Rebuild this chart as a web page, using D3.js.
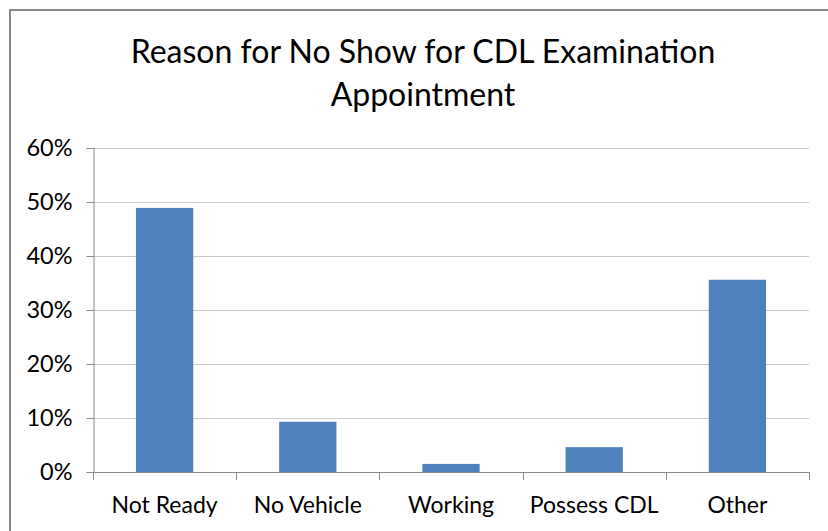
<!DOCTYPE html>
<html><head><meta charset="utf-8">
<script src="https://cdn.jsdelivr.net/npm/d3@7"></script>
<style>body{margin:0;background:#fff}svg{display:block}</style>
</head><body>
<svg id="c" width="828" height="531"></svg>
<script>
const categories = ["Not Ready", "No Vehicle", "Working", "Possess CDL", "Other"];
const values = [0.489, 0.093, 0.015, 0.046, 0.356];
const yTicks = [0, 0.1, 0.2, 0.3, 0.4, 0.5, 0.6];
const titleLines = ["Reason for No Show for CDL Examination", "Appointment"];

const svg = d3.select("#c");
const font = "Lato, 'Open Sans', sans-serif";
const m = {left: 93, right: 809, top: 148, bottom: 472};

// chart border (top and left visible)
svg.append("path").attr("d", "M10,531 V10 H828").attr("fill", "none")
  .attr("stroke", "#888").attr("stroke-width", 2);

const x = d3.scaleBand().domain(categories).range([m.left, m.right]).paddingInner(0.6).paddingOuter(0.3);
const y = d3.scaleLinear().domain([0, 0.6]).range([m.bottom, m.top]);

// gridlines
svg.append("g").selectAll("line").data(yTicks.slice(1)).join("line")
  .attr("x1", m.left).attr("x2", m.right)
  .attr("y1", d => Math.round(y(d)) + 0.5).attr("y2", d => Math.round(y(d)) + 0.5)
  .attr("stroke", "#c8c8c8").attr("stroke-width", 1);

// y axis
const ya = svg.append("g").attr("transform", `translate(${m.left + 0.5},0)`)
  .call(d3.axisLeft(y).tickValues(yTicks).tickFormat(d3.format(".0%")).tickSizeOuter(0).tickSize(7).tickPadding(14));
ya.select(".domain").attr("stroke", "#888");
ya.selectAll(".tick line").attr("stroke", "#888");
ya.selectAll("text").attr("font-family", font).attr("font-size", 23.5).attr("fill", "#000").attr("dy", "0.3em");

// bars
svg.append("g").selectAll("rect").data(categories).join("rect")
  .attr("x", d => x(d)).attr("width", x.bandwidth())
  .attr("y", (d, i) => y(values[i])).attr("height", (d, i) => y(0) - y(values[i]))
  .attr("fill", "#4f81bd");

// x axis
const boundaries = d3.range(categories.length + 1).map(i => m.left + i * x.step());
const xa = svg.append("g");
xa.append("line").attr("x1", m.left).attr("x2", m.right)
  .attr("y1", m.bottom + 0.5).attr("y2", m.bottom + 0.5).attr("stroke", "#888");
xa.selectAll("line.t").data(boundaries).join("line").attr("class", "t")
  .attr("x1", d => Math.round(d) + 0.5).attr("x2", d => Math.round(d) + 0.5)
  .attr("y1", m.bottom).attr("y2", m.bottom + 8).attr("stroke", "#888");
xa.selectAll("text").data(categories).join("text")
  .attr("x", d => x(d) + x.bandwidth() / 2).attr("y", 513)
  .attr("text-anchor", "middle").attr("font-family", font).attr("font-size", 23)
  .attr("fill", "#000").text(d => d);

// title
svg.append("g").selectAll("text").data(titleLines).join("text")
  .attr("x", 423).attr("y", (d, i) => 63 + i * 43)
  .attr("text-anchor", "middle").attr("font-family", font).attr("font-size", 32)
  .attr("fill", "#000").text(d => d);
</script>
</body></html>
